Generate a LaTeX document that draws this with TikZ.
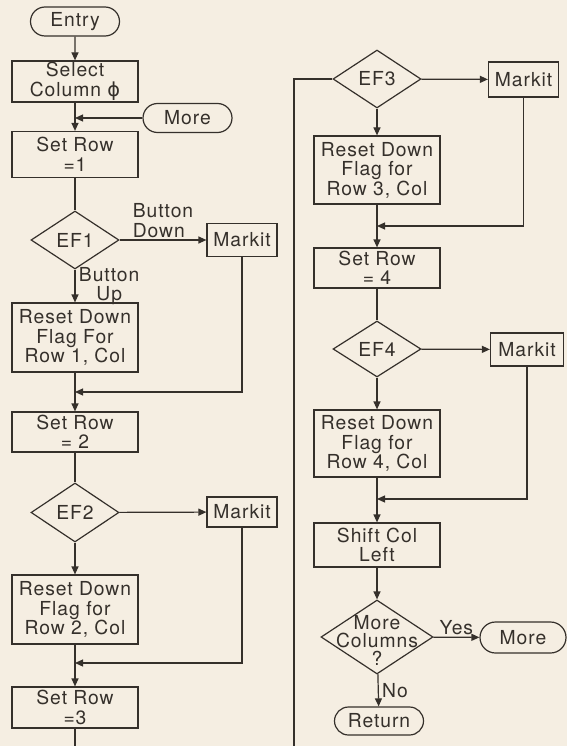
\documentclass[tikz,border=0pt]{standalone}
\usepackage{fontspec}
\setmainfont[LetterSpace=5]{TeX Gyre Heros}
\newfontfamily\phifont{DejaVu Sans}
\usetikzlibrary{arrows.meta,positioning,shapes.geometric,shapes.misc}
\definecolor{FlowInk}{HTML}{35302B}
\definecolor{FlowPaper}{HTML}{F5EEE2}
\tikzset{>={Triangle[length=8pt,width=7pt]},every node/.style={font=\fontsize{19.3}{19.5}\selectfont,
 text=FlowInk},procbox/.style={draw=FlowInk,minimum width=126pt,align=center,inner sep=1pt},
 termbox/.style={rounded rectangle,draw=FlowInk,minimum width=91pt,minimum height=29pt,inner sep=1pt},
 decision/.style={diamond,draw=FlowInk,minimum width=88pt,minimum height=58pt,inner sep=0pt},
 markbox/.style={draw=FlowInk,minimum width=70pt,minimum height=33pt,inner sep=1pt},
 tag/.style={inner sep=2pt,align=center}}

\begin{document}
\begin{tikzpicture}[x=1pt,y=-1pt,line width=1.2pt,color=FlowInk]
\fill[FlowPaper] (0,0) rectangle (567,746);
\useasboundingbox (0,0) rectangle (567,746);
\node[termbox] (entry) at (75,21.5) {Entry};
\node[procbox,minimum height=41pt] (sel) at (75,81.5) {Select\\Column {\phifont ϕ}};
\node[termbox] (more1) at (187.5,118) {More};
\node[procbox,minimum height=46pt] (row1) at (75,154.5) {Set Row\\=1};
\node[decision] (ef1) at (75,240) {EF1};
\node[markbox] (mk1) at (242,240) {Markit};
\node[procbox,minimum height=69pt] (clr1) at (75,337.5) {Reset Down\\Flag For\\Row 1, Col};
\coordinate (j1) at (75,392);
\node[procbox,minimum height=40pt] (row2) at (75,432) {Set Row\\= 2};
\node[decision,minimum height=59pt] (ef2) at (75,512.5) {EF2};
\node[markbox,minimum height=30pt] (mk2) at (242,512) {Markit};
\node[procbox,minimum height=69pt] (clr2) at (75,609.5) {Reset Down\\Flag for\\Row 2, Col};
\coordinate (j2) at (75,663);
\node[procbox,minimum height=41pt] (row3) at (75,707.5) {Set Row\\=3};
\coordinate (down) at (75,760);
\node[decision] (ef3) at (377,79) {EF3};
\node[markbox,minimum height=35pt] (mk3) at (523.5,79.5) {Markit};
\node[procbox,minimum height=68pt] (clr3) at (377,170) {Reset Down\\Flag for\\Row 3, Col};
\coordinate (j3) at (377,226);
\node[procbox,minimum height=40pt] (row4) at (377,268) {Set Row\\= 4};
\node[decision,minimum height=56pt] (ef4) at (377,349) {EF4};
\node[markbox,minimum width=73pt] (mk4) at (527,349.5) {Markit};
\node[procbox,minimum height=67pt] (clr4) at (377,443.5) {Reset Down\\Flag for\\Row 4, Col};
\coordinate (j4) at (377,499);
\node[procbox,minimum height=44pt] (shift) at (377,545) {Shift Col\\Left};
\node[decision,minimum width=112pt,minimum height=74pt,label={[align=center,yshift=-3pt,
 font=\fontsize{19.3}{18}\selectfont]center:More\\Columns\\?}] (cols) at (377,637) {};
\node[termbox,minimum width=88pt,minimum height=31pt] (more2) at (523,637.5) {More};
\node[termbox,minimum height=28pt] (ret) at (379,721) {Return};
\coordinate (wrap) at (294,760);
\draw[->] (entry)--(sel);
\draw[->] (sel)--(row1);
\draw[->] (more1)--(more1-|sel);
\draw (row1)--(ef1);
\draw[->] (ef1)--node[tag,above,align=left]{Button\\Down}(mk1);
\draw[->] (ef1)--node[right,align=center]{Button\\Up}(clr1);
\draw[->] (mk1)|-(j1);
\draw[->] (clr1)--(row2);
\draw (row2)--(ef2);
\draw[->] (ef2)--(mk2);
\draw[->] (ef2)--(clr2);
\draw[->] (mk2)|-(j2);
\draw[->] (clr2)--(row3);
\draw (row3)--(down);
\draw (ef3)-|(wrap);
\draw[->] (ef3)--(mk3);
\draw[->] (ef3)--(clr3);
\draw[->] (mk3)|-(j3);
\draw[->] (clr3)--(row4);
\draw (row4)--(ef4);
\draw[->] (ef4)--(mk4);
\draw[->] (ef4)--(clr4);
\draw[->] (mk4)|-(j4);
\draw[->] (clr4)--(shift);
\draw[->] (shift)--(cols);
\draw[->] (cols)--node[tag,above]{Yes}(more2);
\draw[->] (cols)--node[right]{No}(ret);
\end{tikzpicture}
\end{document}
